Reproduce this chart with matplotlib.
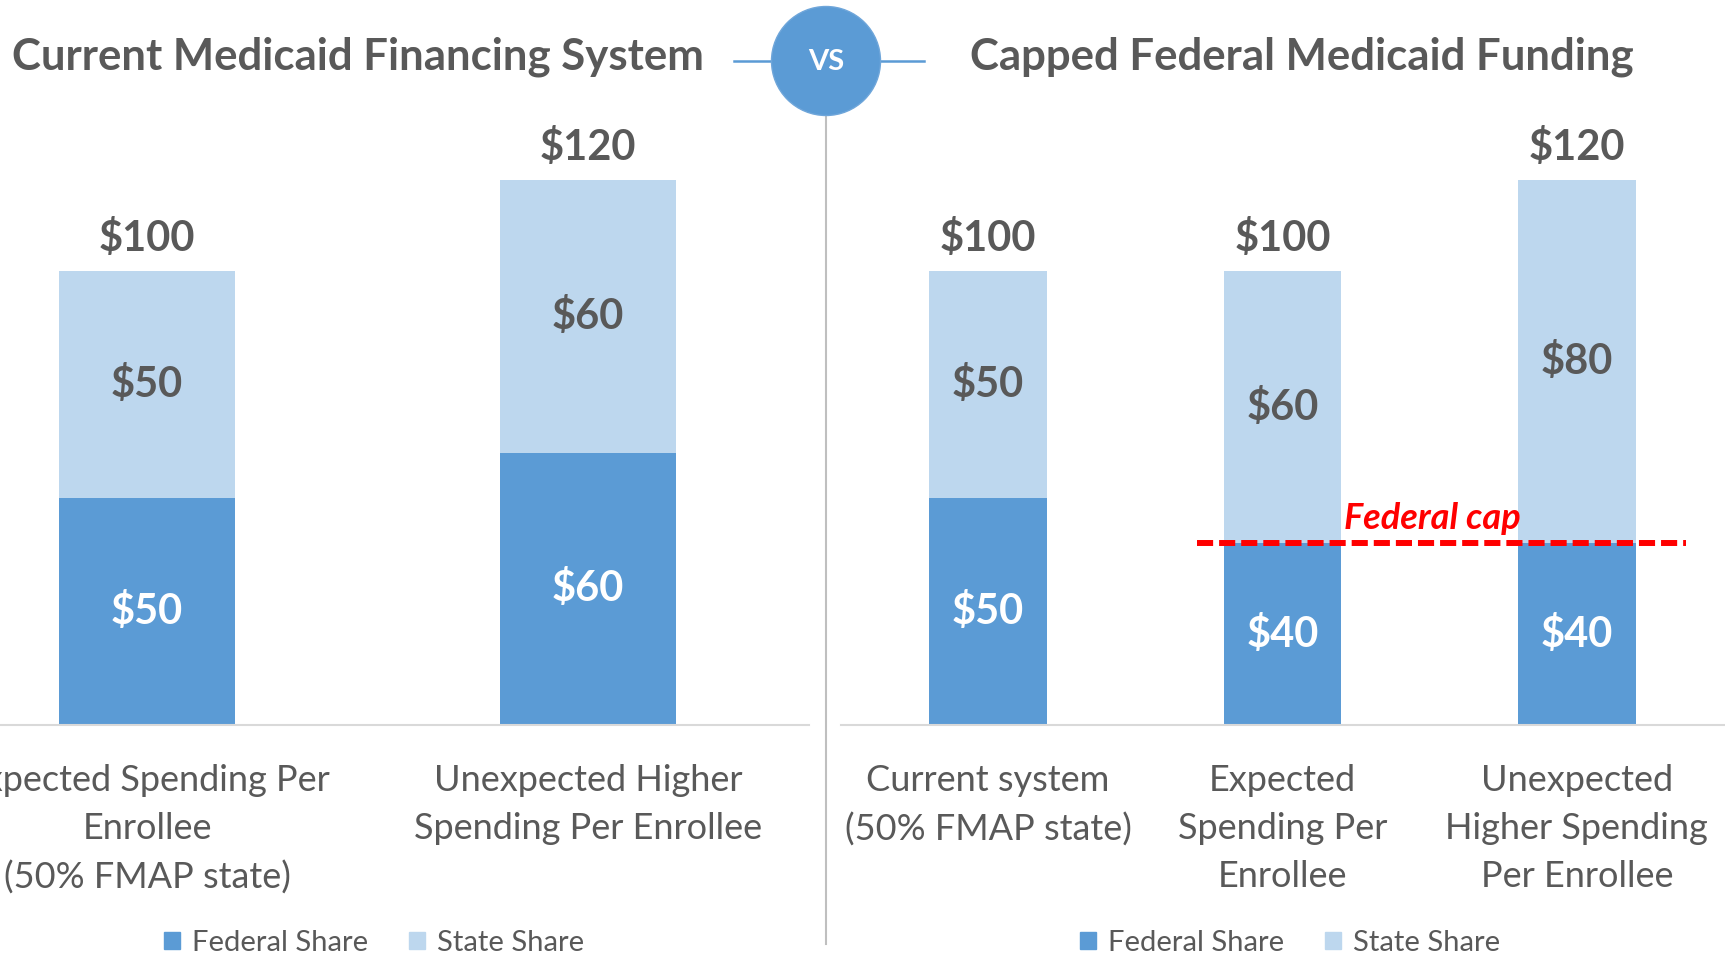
import matplotlib
matplotlib.use("Agg")
import matplotlib.pyplot as plt
from matplotlib.patches import Ellipse, Patch

# data
left_cats = ["Expected Spending Per\nEnrollee\n(50% FMAP state)",
             "Unexpected Higher\nSpending Per Enrollee"]
left_fed = [50, 60]
left_state = [50, 60]

right_cats = ["Current system\n(50% FMAP state)",
              "Expected\nSpending Per\nEnrollee",
              "Unexpected\nHigher Spending\nPer Enrollee"]
right_fed = [50, 40, 40]
right_state = [50, 60, 80]
federal_cap = 40

FED = "#5B9BD5"
STATE = "#BDD7EE"
GRAY = "#595959"
FONT = "Lato"

W, H = 1725, 957
fig = plt.figure(figsize=(W / 100, H / 100), dpi=100)

bottom = 232 / H
height = 140 * 4.54 / H


def panel(rect, cats, fed, state, legend_x):
    ax = fig.add_axes(rect)
    ax.patch.set_visible(False)
    x = list(range(len(cats)))
    ax.bar(x, fed, width=0.4, color=FED)
    ax.bar(x, state, width=0.4, bottom=fed, color=STATE)
    ax.set_xlim(-0.5, len(cats) - 0.5)
    ax.set_ylim(0, 140)
    for s in ["top", "left", "right"]:
        ax.spines[s].set_visible(False)
    ax.spines["bottom"].set_color("#D9D9D9")
    ax.spines["bottom"].set_linewidth(1.5)
    ax.set_yticks([])
    ax.set_xticks(x)
    ax.set_xticklabels(cats, fontsize=26, color=GRAY, family=FONT, linespacing=1.55)
    ax.tick_params(axis="x", length=0, pad=28)
    for i in x:
        ax.text(i, fed[i] / 2, "$%d" % fed[i], ha="center", va="center", fontsize=30,
                fontweight="bold", color="white", family=FONT)
        ax.text(i, fed[i] + state[i] / 2, "$%d" % state[i], ha="center", va="center",
                fontsize=30, fontweight="bold", color=GRAY, family=FONT)
        ax.text(i, fed[i] + state[i] + 7.2, "$%d" % (fed[i] + state[i]), ha="center",
                va="center", fontsize=30, fontweight="bold", color=GRAY, family=FONT)
    handles = [Patch(color=FED, label="Federal Share"), Patch(color=STATE, label="State Share")]
    leg = ax.legend(handles=handles, ncol=2, loc="center", bbox_to_anchor=(legend_x, 14 / H),
                    bbox_transform=fig.transFigure, frameon=False,
                    handlelength=0.55, handleheight=0.55, handletextpad=0.4, columnspacing=1.4,
                    prop={"family": FONT, "size": 21})
    for t in leg.get_texts():
        t.set_color(GRAY)
    return ax


axl = panel([-73.5 / W, bottom, 882 / W, height], left_cats, left_fed, left_state, 374 / W)
axr = panel([841 / W, bottom, 883 / W, height], right_cats, right_fed, right_state, 1290 / W)

axr.plot([0.71, 2.37], [federal_cap, federal_cap], color="#FF0000", lw=4.3,
         linestyle=(0, (2.7, 1.0)), solid_capstyle="butt", dash_capstyle="butt")
axr.text(1.508, 45.5, "Federal cap", color="#FF0000", fontsize=26, fontweight="bold",
         fontstyle="italic", ha="center", va="center", family=FONT)

# overlay in pixel coords for divider / vs badge
ov = fig.add_axes([0, 0, 1, 1])
ov.patch.set_visible(False)
ov.set_xlim(0, W)
ov.set_ylim(H, 0)
ov.axis("off")
ov.plot([826, 826], [115, 944], color="#BFBFBF", lw=1.5)
ov.plot([734, 924], [61, 61], color=FED, lw=1.8)
ov.add_patch(Ellipse((826, 61), 109, 109, facecolor=FED, edgecolor="#6FA6DA", lw=1, zorder=3))
ov.text(826, 62, "VS", color="white", fontsize=21, fontweight="bold", ha="center",
        va="center", family=FONT, zorder=4)

fig.text(358 / W, 1 - 57 / H, "Current Medicaid Financing System", ha="center", va="center",
         fontsize=31.5, fontweight="bold", color=GRAY, family=FONT)
fig.text(1302 / W, 1 - 57 / H, "Capped Federal Medicaid Funding", ha="center", va="center",
         fontsize=31.5, fontweight="bold", color=GRAY, family=FONT)

fig.savefig("out.png", dpi=100)
